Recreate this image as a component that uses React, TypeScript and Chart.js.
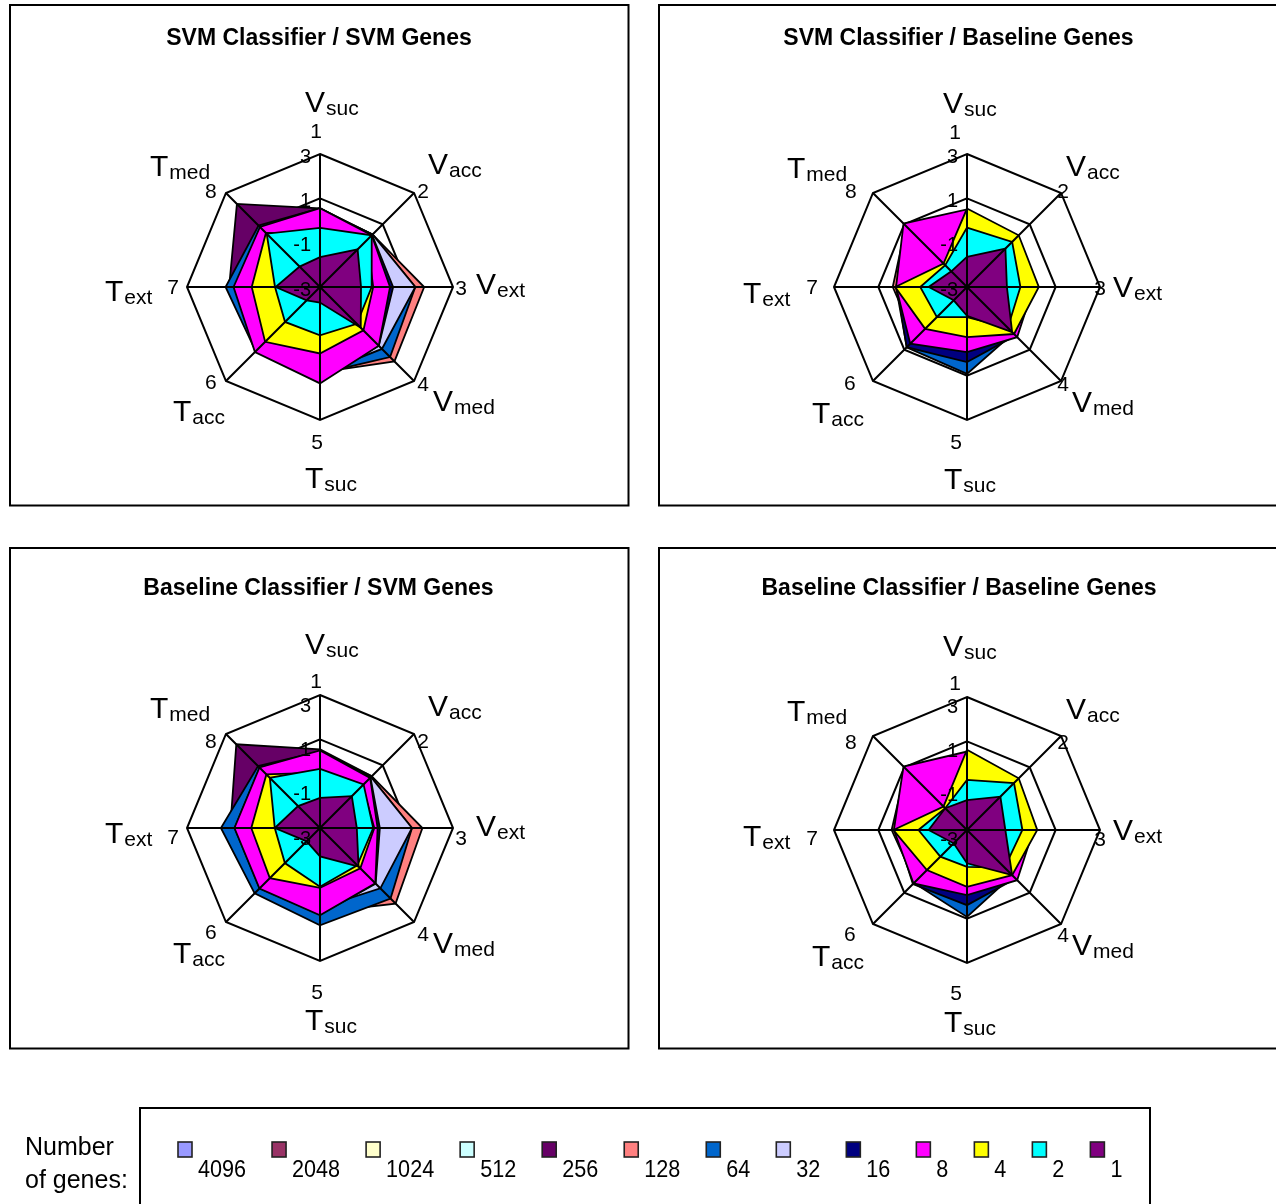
import React, { useEffect, useRef } from 'react';
import Chart from 'chart.js/auto';

// ---------- data ----------
const AXIS_NUMBERS = ['1', '2', '3', '4', '5', '6', '7', '8'];
const AXIS_MAIN = ['V', 'V', 'V', 'V', 'T', 'T', 'T', 'T'];
const AXIS_SUB = ['suc', 'acc', 'ext', 'med', 'suc', 'acc', 'ext', 'med'];
const TICK_VALUES = [3, 1, -1, -3];
const GENE_COUNTS = ['4096', '2048', '1024', '512', '256', '128', '64', '32', '16', '8', '4', '2', '1'];
const SERIES_COLORS = ['#9999FF', '#993366', '#FFFFCC', '#CCFFFF', '#660066', '#FF8080', '#0066CC', '#CCCCFF', '#000080', '#FF00FF', '#FFFF00', '#00FFFF', '#800080'];

// rows follow GENE_COUNTS order; columns follow axes 1..8
const SVM_CLS_SVM_GENES: number[][] = [
  [0.3, 0.1, 0.0, 0.5, 1.0, 0.9, 0.7, 0.6],
  [0.35, 0.15, 0.05, 0.55, 1.1, 0.95, 0.75, 0.65],
  [0.4, 0.2, 0.05, 0.6, 1.15, 1.0, 0.8, 0.7],
  [0.45, 0.25, 0.1, 0.65, 1.2, 1.05, 0.85, 0.75],
  [0.55, 0.3, 0.5, 0.6, 0.8, 0.9, 1.1, 2.3],
  [0.5, 0.35, 1.7, 1.75, 0.85, 0.8, 0.8, 0.7],
  [0.55, 0.35, 1.3, 1.47, 0.9, 1.1, 1.26, 0.92],
  [0.5, 0.35, 1.3, 0.95, 0.9, 0.9, 0.8, 0.75],
  [0.5, 0.32, 0.3, 0.75, 1.2, 1.0, 0.8, 0.8],
  [0.56, 0.3, 0.16, 0.75, 1.35, 1.15, 0.9, 0.83],
  [-0.6, 0.0, -0.6, -0.23, 0.0, 0.5, 0.08, 0.45],
  [-0.33, 0.3, -0.67, -0.65, -0.82, -0.77, -0.97, 0.4],
  [-1.65, -0.6, -1.15, -0.4, -2.3, -2.15, -1.0, -1.7],
];

const SVM_CLS_BASE_GENES: number[][] = [
  [0.2, 0.0, -0.3, -0.1, -0.4, 0.3, -0.1, 0.6],
  [0.25, 0.05, -0.25, -0.05, -0.35, 0.35, -0.05, 0.7],
  [0.3, 0.05, -0.2, 0.0, -0.3, 0.4, 0.0, 0.75],
  [0.35, 0.1, -0.15, 0.05, -0.25, 0.45, 0.05, 0.8],
  [0.3, 0.1, -0.2, 0.0, -0.3, 0.4, 0.0, 0.85],
  [0.35, 0.1, -0.1, 0.0, 0.1, 0.3, 0.35, 0.9],
  [0.3, 0.1, -0.1, -0.05, 0.92, 0.85, 0.15, 0.5],
  [0.3, 0.1, -0.15, 0.0, -0.2, 0.4, 0.05, 0.8],
  [0.35, 0.1, -0.1, 0.1, 0.39, 0.84, 0.2, 0.6],
  [0.5, 0.2, 0.0, 0.2, -0.06, 0.62, 0.2, 1.05],
  [0.54, 0.3, 0.24, 0.0, -0.74, -0.33, 0.24, -1.5],
  [-0.32, -0.12, -0.59, -0.4, -1.64, -1.08, -0.89, -1.61],
  [-1.64, -0.55, -1.2, -0.12, -1.7, -2.15, -1.27, -2.0],
];

const BASE_CLS_SVM_GENES: number[][] = [
  [0.2, 0.0, -0.6, 0.2, 0.6, 0.5, 0.5, 0.5],
  [0.25, 0.05, -0.55, 0.25, 0.65, 0.55, 0.55, 0.55],
  [0.3, 0.1, -0.5, 0.3, 0.7, 0.6, 0.6, 0.6],
  [0.35, 0.1, -0.5, 0.35, 0.75, 0.65, 0.65, 0.65],
  [0.55, 0.3, 0.5, 0.6, 0.8, 0.9, 1.05, 2.34],
  [0.45, 0.3, 1.62, 1.82, 0.8, 0.7, 0.8, 0.8],
  [0.45, 0.25, 1.15, 1.5, 1.39, 1.17, 1.47, 0.95],
  [0.4, 0.25, 1.15, 0.85, 0.6, 0.6, 0.7, 0.7],
  [0.45, 0.22, -0.3, 0.55, 0.9, 0.85, 0.85, 0.85],
  [0.5, 0.2, -0.4, 0.53, 0.94, 0.86, 0.86, 0.86],
  [-0.5, -0.3, -0.55, -0.43, -0.3, 0.2, 0.1, 0.42],
  [-0.33, -0.22, -0.6, -0.62, -0.35, -0.76, -0.96, 0.2],
  [-1.64, -0.97, -1.34, -0.54, -1.72, -2.15, -0.96, -1.6],
];

const BASE_CLS_BASE_GENES: number[][] = [
  [0.2, 0.0, -0.3, -0.1, -0.4, 0.1, -0.1, 0.6],
  [0.25, 0.05, -0.25, -0.05, -0.35, 0.15, -0.05, 0.65],
  [0.3, 0.05, -0.2, 0.0, -0.3, 0.2, 0.0, 0.7],
  [0.35, 0.1, -0.15, 0.05, -0.25, 0.25, 0.05, 0.75],
  [0.3, 0.1, -0.2, 0.0, -0.3, 0.2, 0.0, 0.8],
  [0.35, 0.1, -0.1, 0.0, 0.1, 0.3, 0.4, 0.9],
  [0.3, 0.1, -0.1, -0.1, 0.92, 0.38, 0.2, 0.5],
  [0.3, 0.1, -0.15, 0.0, -0.2, 0.25, 0.05, 0.8],
  [0.35, 0.1, -0.1, 0.1, 0.39, 0.45, 0.22, 0.6],
  [0.54, 0.2, 0.0, 0.2, -0.06, 0.41, 0.3, 1.05],
  [0.62, 0.3, 0.17, -0.12, -0.44, -0.44, 0.32, -1.5],
  [-0.74, 0.0, -0.5, -0.6, -1.34, -1.3, -0.81, -1.61],
  [-1.65, -0.87, -1.27, -0.12, -1.5, -2.15, -1.27, -1.61],
];

// ---------- layout ----------
const FONT = '"Liberation Sans", Arial, Helvetica, sans-serif';
const CW = 624;
const CH = 506;
const RADIUS = 133;

const NUM_OFF_LEFT = [[-4, -22], [9, -1], [8, 2], [9, 4], [-3, 23], [-15, 2], [-14, 1], [-15, -1]];
const MAIN_OFF_LEFT = [[-15, -42], [14, -19], [23, 7], [19, 30], [-15, 68], [-53, 40], [-82, 14], [-76, -17]];
const NUM_OFF_RIGHT = [[-12, -21], [2, -1], [0, 2], [2, 4], [-11, 23], [-23, 3], [-22, 1], [-22, -1]];
const MAIN_OFF_RIGHT = [[-24, -41], [5, -17], [13, 10], [11, 31], [-23, 69], [-61, 42], [-91, 16], [-86, -15]];

type PanelCfg = {
  title: string;
  values: number[][];
  left: number;
  top: number;
  cx: number;
  cy: number;
  titleX: number;
  titleY: number;
  numOff: number[][];
  mainOff: number[][];
  numDy: number;
  mainDy: number;
  tickDy: number;
};

const PANELS: PanelCfg[] = [
  { title: 'SVM Classifier / SVM Genes', values: SVM_CLS_SVM_GENES, left: 8, top: 3, cx: 320, cy: 287, titleX: 319, titleY: 45, numOff: NUM_OFF_LEFT, mainOff: MAIN_OFF_LEFT, numDy: 0, mainDy: 0, tickDy: 0 },
  { title: 'SVM Classifier / Baseline Genes', values: SVM_CLS_BASE_GENES, left: 657, top: 3, cx: 967, cy: 287, titleX: 958.5, titleY: 45, numOff: NUM_OFF_RIGHT, mainOff: MAIN_OFF_RIGHT, numDy: 0, mainDy: 0, tickDy: 0 },
  { title: 'Baseline Classifier / SVM Genes', values: BASE_CLS_SVM_GENES, left: 8, top: 546, cx: 320, cy: 828, titleX: 318.5, titleY: 595, numOff: NUM_OFF_LEFT, mainOff: MAIN_OFF_LEFT, numDy: 9, mainDy: 1, tickDy: 8 },
  { title: 'Baseline Classifier / Baseline Genes', values: BASE_CLS_BASE_GENES, left: 657, top: 546, cx: 967, cy: 830, titleX: 959, titleY: 595, numOff: NUM_OFF_RIGHT, mainOff: MAIN_OFF_RIGHT, numDy: 8, mainDy: 0, tickDy: 7 },
];

function RadarPanel({ cfg }: { cfg: PanelCfg }) {
  const ref = useRef<HTMLCanvasElement>(null);
  useEffect(() => {
    const canvas = ref.current;
    if (!canvas) return;
    const ccx = cfg.cx - cfg.left;
    const ccy = cfg.cy - cfg.top;

    const overlay = {
      id: 'panelOverlay',
      beforeDraw(chart: any) {
        const ctx = chart.ctx;
        ctx.save();
        ctx.fillStyle = '#ffffff';
        ctx.fillRect(0, 0, CW, CH);
        ctx.strokeStyle = '#000';
        ctx.lineWidth = 2;
        ctx.strokeRect(2, 2, 618.5, 500.5);
        ctx.restore();
      },
      afterDatasetsDraw(chart: any) {
        const ctx = chart.ctx;
        const scale = chart.scales.r;
        const cxp = scale.xCenter;
        const cyp = scale.yCenter;
        ctx.save();
        // spokes on top of the filled areas
        ctx.strokeStyle = '#000';
        ctx.lineWidth = 2;
        ctx.beginPath();
        for (let i = 0; i < AXIS_NUMBERS.length; i++) {
          const p = scale.getPointPositionForValue(i, scale.max);
          ctx.moveTo(cxp, cyp);
          ctx.lineTo(p.x, p.y);
        }
        ctx.stroke();
        // tick labels
        ctx.fillStyle = '#000';
        ctx.font = `20px ${FONT}`;
        ctx.textAlign = 'right';
        ctx.textBaseline = 'middle';
        TICK_VALUES.forEach((v) => {
          const p = scale.getPointPositionForValue(0, v);
          ctx.fillText(String(v), p.x - 9, p.y + 3 + cfg.tickDy);
        });
        // axis numbers and names
        for (let i = 0; i < AXIS_NUMBERS.length; i++) {
          const p = scale.getPointPositionForValue(i, scale.max);
          ctx.font = `21px ${FONT}`;
          ctx.textAlign = 'center';
          ctx.textBaseline = 'middle';
          ctx.fillText(AXIS_NUMBERS[i], p.x + cfg.numOff[i][0], p.y + cfg.numOff[i][1] + cfg.numDy);
          const lx = p.x + cfg.mainOff[i][0];
          const ly = p.y + cfg.mainOff[i][1] + cfg.mainDy;
          ctx.textAlign = 'left';
          ctx.textBaseline = 'alphabetic';
          ctx.font = `30px ${FONT}`;
          ctx.fillText(AXIS_MAIN[i], lx, ly);
          const w = ctx.measureText(AXIS_MAIN[i]).width;
          ctx.font = `21px ${FONT}`;
          ctx.fillText(AXIS_SUB[i], lx + w + 1, ly + 3);
        }
        // title
        ctx.font = `bold 23px ${FONT}`;
        ctx.textAlign = 'center';
        ctx.textBaseline = 'alphabetic';
        ctx.fillText(cfg.title, cfg.titleX - cfg.left, cfg.titleY - cfg.top);
        ctx.restore();
      },
    };

    const n = GENE_COUNTS.length;
    const chart = new Chart(canvas, {
      type: 'radar',
      data: {
        labels: AXIS_NUMBERS,
        datasets: GENE_COUNTS.map((g, i) => ({
          label: g,
          data: cfg.values[i],
          backgroundColor: SERIES_COLORS[i],
          borderColor: '#000',
          borderWidth: 1.8,
          pointRadius: 0,
          pointHoverRadius: 0,
          pointHitRadius: 0,
          fill: 'start',
          order: n - 1 - i,
        })),
      },
      options: {
        responsive: false,
        maintainAspectRatio: false,
        animation: false,
        events: [],
        layout: {
          padding: {
            left: ccx - RADIUS,
            right: CW - ccx - RADIUS,
            top: ccy - RADIUS,
            bottom: CH - ccy - RADIUS,
          },
        },
        elements: { line: { borderJoinStyle: 'miter', tension: 0 } },
        plugins: {
          legend: { display: false },
          title: { display: false },
          tooltip: { enabled: false },
        },
        scales: {
          r: {
            min: -3,
            max: 3,
            beginAtZero: false,
            ticks: { stepSize: 2, display: false },
            grid: { color: '#000', lineWidth: 2 },
            angleLines: { display: false },
            pointLabels: { display: false },
          },
        },
      } as any,
      plugins: [overlay],
    });
    return () => chart.destroy();
  }, [cfg]);
  return (
    <canvas
      ref={ref}
      width={CW}
      height={CH}
      style={{ position: 'absolute', left: cfg.left, top: cfg.top, width: CW, height: CH }}
    />
  );
}

function Legend() {
  const ref = useRef<HTMLCanvasElement>(null);
  useEffect(() => {
    const c = ref.current;
    if (!c) return;
    const ctx = c.getContext('2d');
    if (!ctx) return;
    ctx.clearRect(0, 0, 1276, 104);
    ctx.fillStyle = '#fff';
    ctx.fillRect(0, 0, 1276, 104);
    ctx.strokeStyle = '#000';
    ctx.lineWidth = 2;
    ctx.strokeRect(140, 8, 1010, 200);
    ctx.fillStyle = '#000';
    ctx.font = `25px ${FONT}`;
    ctx.textBaseline = 'alphabetic';
    ctx.textAlign = 'left';
    ctx.fillText('Number', 25, 55);
    ctx.fillText('of genes:', 25, 88);
    let x = 178;
    const sx = 0.9;
    GENE_COUNTS.forEach((g, i) => {
      ctx.fillStyle = SERIES_COLORS[i];
      ctx.fillRect(x, 42, 14, 15);
      ctx.strokeStyle = '#222';
      ctx.lineWidth = 1.6;
      ctx.strokeRect(x, 42, 14, 15);
      ctx.font = `24px ${FONT}`;
      const w = ctx.measureText(g).width * sx;
      ctx.save();
      ctx.translate(x + 20, 77);
      ctx.scale(sx, 1);
      ctx.fillStyle = '#000';
      ctx.fillText(g, 0, 0);
      ctx.restore();
      x += 46 + w;
    });
  }, []);
  return (
    <canvas
      ref={ref}
      width={1276}
      height={104}
      style={{ position: 'absolute', left: 0, top: 1100, width: 1276, height: 104 }}
    />
  );
}

export default function App() {
  return (
    <div
      style={{
        position: 'absolute',
        left: 0,
        top: 0,
        width: 1276,
        height: 1204,
        overflow: 'hidden',
        background: '#fff',
      }}
    >
      {PANELS.map((p) => (
        <RadarPanel key={p.title} cfg={p} />
      ))}
      <Legend />
    </div>
  );
}
